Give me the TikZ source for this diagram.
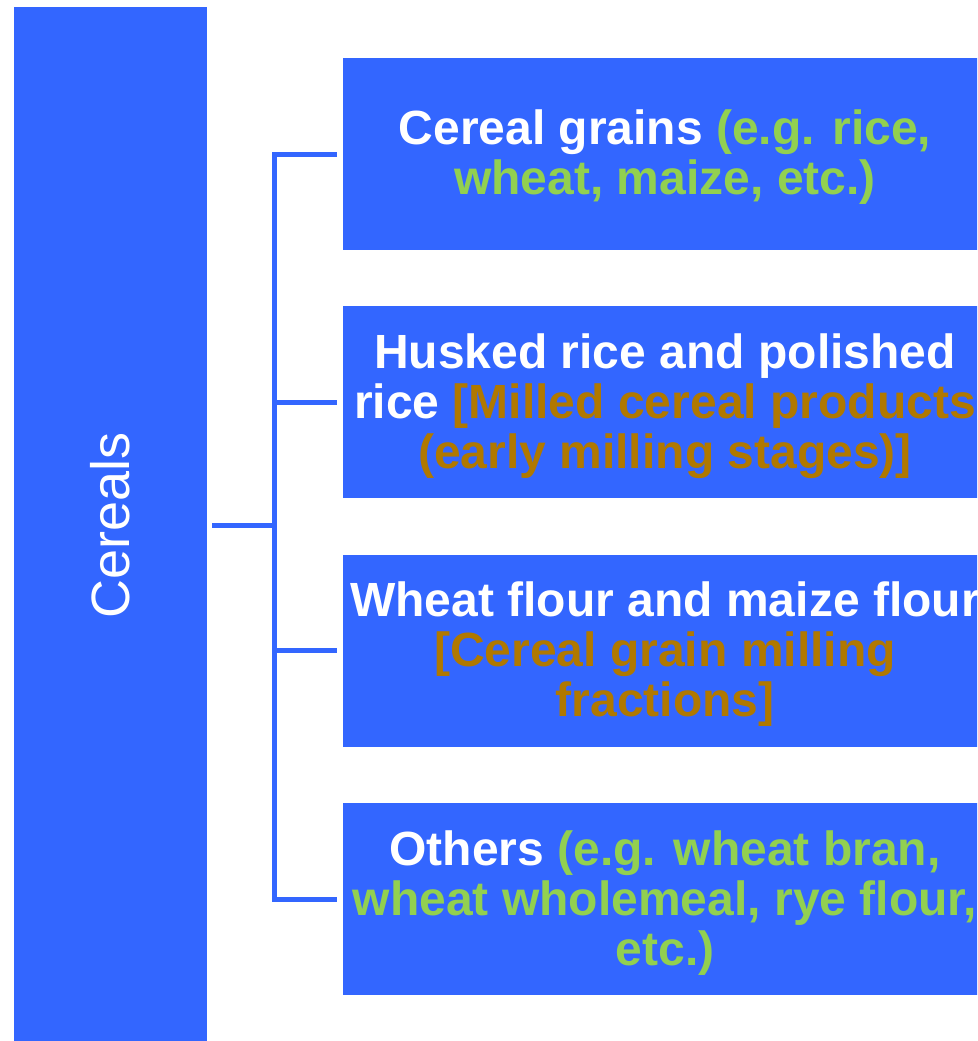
\documentclass[tikz,border=0pt]{standalone}
\usepackage{fontspec}
\setmainfont{Liberation Sans}
\usepackage{tikz}
\usetikzlibrary{positioning}
\definecolor{boxblue}{HTML}{3366FF}
\definecolor{egreen}{HTML}{92D050}
\definecolor{ebrown}{HTML}{B07800}
\newcommand{\eg}[1]{\textcolor{egreen}{#1}}
\newcommand{\mf}[1]{\textcolor{ebrown}{#1}}

\begin{document}
\begin{tikzpicture}[x=1pt, y=1pt,
    mainbox/.style={fill=boxblue, text=white, inner sep=0pt, minimum width=193pt, minimum height=1036pt,
      font=\fontsize{54}{60}\selectfont},
    subbox/.style={fill=boxblue, text=white, inner sep=0pt, align=center, minimum width=644pt, minimum height=192pt,
      text depth=3pt, font=\fontsize{48}{50}\selectfont\bfseries},
    link/.style={draw=boxblue, line width=5pt}]
  \useasboundingbox (0,0) rectangle (977,-1041);
  \clip (0,0) rectangle (977,-1041);
  \node[mainbox] (cereals) at (110.5,-525) {};
  \node[rotate=90, text=white, font=\fontsize{54}{60}\selectfont] (label) at (cereals.center) {Cereals};

  \node[subbox] (grains) at (665,-154) {Cereal grains \eg{(e.g. rice,}\\ \eg{wheat, maize, etc.)}};
  \node[subbox, below=56pt of grains] (husked) {Husked rice and polished\\ rice \mf{[Milled cereal products}\\ \mf{(early milling stages)]}};
  \node[subbox, below=56pt of husked] (flour) {Wheat flour and maize flour\\ \mf{[Cereal grain milling}\\ \mf{fractions]}};
  \node[subbox, below=56pt of flour] (others) {Others \eg{(e.g. wheat bran,}\\ \eg{wheat wholemeal, rye flour,}\\ \eg{etc.)}};

  % tree connector
  \coordinate (fork) at (274,-525);
  \draw[link] ([xshift=5pt]cereals.east |- fork) -- (fork);
  \draw[link, line cap=rect] (fork |- grains.west) -- (fork |- others.west);
  \foreach \n in {grains,husked,flour,others}
    \draw[link] (fork |- \n.west) -- ([xshift=-6pt]\n.west);
\end{tikzpicture}
\end{document}
